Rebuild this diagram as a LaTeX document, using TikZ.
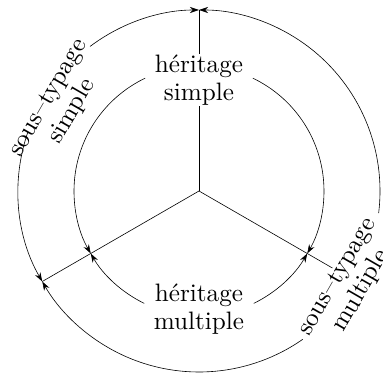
\documentclass[tikz,border=0pt]{standalone}
\usepackage{fontspec}
\setmainfont{lmroman10-regular}[Extension=.otf, Ligatures=TeX]
\usetikzlibrary{arrows.meta}
\begin{document}
\begin{tikzpicture}[x=1pt,y=1pt, line width=0.6pt,
  arr/.style={-{Stealth[length=9pt,width=6pt]}},
  lbl/.style={font=\fontsize{25.2}{27.5}\selectfont, align=center, inner sep=0pt}]
\useasboundingbox (-199,-183) rectangle (184,191);
\coordinate (O) at (0,0);
\coordinate (T) at (90:181);
\coordinate (L) at (210:181);
\coordinate (R) at (-30:154);
\draw (O) -- (T);
\draw (O) -- (L);
\draw (O) -- (R);
% inner arcs
\coordinate (i1) at (115.5:125);
\coordinate (i2) at (64.5:125);
\coordinate (i3) at (244:125);
\coordinate (i4) at (296:125);
\draw[arr] (i1) arc[start angle=115.5, end angle=210, radius=125];
\draw[arr] (i2) arc[start angle=64.5, end angle=-30, radius=125];
\draw[arr] (i3) arc[start angle=244, end angle=210, radius=125];
\draw[arr] (i4) arc[start angle=296, end angle=330, radius=125];
% outer arcs
\coordinate (o1) at (127:181);
\coordinate (o2) at (161:181);
\coordinate (o3) at (-7:181);
\coordinate (o4) at (-55:181);
\draw[arr] (o1) arc[start angle=127, end angle=90, radius=181];
\draw[arr] (o2) arc[start angle=161, end angle=210, radius=181];
\draw[arr] (o3) arc[start angle=-7, end angle=90, radius=181];
\draw[arr] (o4) arc[start angle=-55, end angle=-150, radius=181];
% labels
\node[lbl, fill=white, inner xsep=8pt, inner ysep=1pt] (hs) at (0,111) {héritage\\simple};
\node[lbl] (hm) at (0,-118) {héritage\\multiple};
\node[lbl, rotate=60] (sts) at (-138,86) {sous--typage\\simple};
\node[lbl, rotate=60] (stm) at (151,-93) {sous--typage\\multiple};
\end{tikzpicture}
\end{document}
